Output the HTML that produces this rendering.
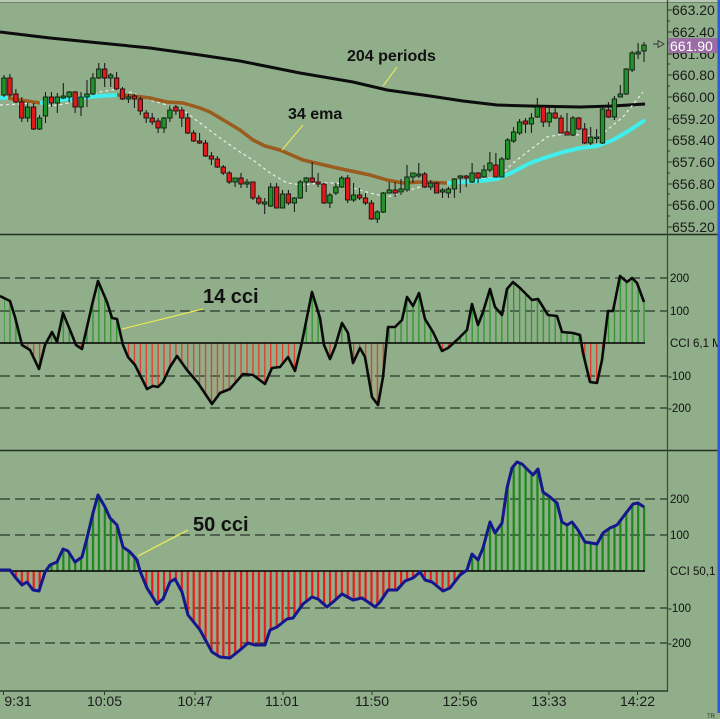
<!DOCTYPE html>
<html><head><meta charset="utf-8"><style>
html,body{margin:0;padding:0;background:#8fae89;}
svg{display:block;font-family:"Liberation Sans",Arial,sans-serif;}
</style></head><body>
<svg width="720" height="719" viewBox="0 0 720 719" xmlns="http://www.w3.org/2000/svg">
<defs>
<pattern id="pgm" patternUnits="userSpaceOnUse" x="3.4" y="0" width="5.926" height="20"><rect x="0" y="0" width="1.3" height="20" fill="#2b982b"/></pattern>
<pattern id="prm" patternUnits="userSpaceOnUse" x="3.4" y="0" width="5.926" height="20"><rect x="0" y="0" width="1.3" height="20" fill="#e43c2a"/></pattern>
<pattern id="pgb" patternUnits="userSpaceOnUse" x="3" y="0" width="5.926" height="20"><rect x="0" y="0" width="2.2" height="20" fill="#1b8a1b"/></pattern>
<pattern id="prb" patternUnits="userSpaceOnUse" x="3" y="0" width="5.926" height="20"><rect x="0" y="0" width="2.2" height="20" fill="#e81c1c"/></pattern>
<clipPath id="cm"><polygon points="4,298 10,301 15,317 22,345 30,350 39,369 45,345 52,332 57,342 63,313 70,330 76,345 82,349 92,305 98,281 107,302 112,318 117,319 123,345 128,357 135,365 147,389 153,386 158,387 163,382 170,367 177,356 187,370 198,383 212,404 220,393 230,389 243,374 253,375 265,384 272,368 280,367 288,357 295,371 302,342 312,292 320,318 324,345 330,359 335,347 342,323 348,333 353,363 360,348 365,357 372,397 378,405 383,377 388,327 395,327 402,320 407,297 413,306 419,293 425,319 433,332 442,351 448,348 457,340 467,330 472,304 478,325 483,312 490,289 495,307 502,315 507,289 513,282 520,288 532,300 538,299 548,315 557,316 562,332 573,333 580,335 583,353 590,382 597,383 602,360 608,311 613,311 620,276 627,282 632,278 637,283 645,302 645,343 4,343"/></clipPath>
<clipPath id="cb"><polygon points="4,570 10,570 15,577 22,585 27,582 33,590 39,591 45,572 50,565 57,562 63,549 68,551 75,562 82,557 87,538 93,513 98,495 105,507 110,518 117,525 123,547 130,552 137,560 140,571 147,588 157,604 163,599 170,582 175,579 182,592 188,615 200,630 212,652 220,657 230,658 240,650 248,643 255,645 265,645 270,630 277,627 287,619 293,618 303,604 312,597 318,599 327,607 333,602 342,594 353,600 362,598 368,602 375,607 380,602 388,590 397,590 405,581 413,578 420,572 425,580 432,582 443,591 450,588 460,575 467,570 472,554 478,560 483,548 490,522 495,533 502,523 507,488 512,468 517,462 522,464 533,475 538,469 543,492 550,497 557,503 562,522 567,525 572,522 578,530 585,542 597,544 603,533 610,528 617,525 623,517 633,504 638,503 646,507 646,571 4,571"/></clipPath>
</defs>
<rect x="0" y="0" width="720" height="719" fill="#8fae89"/>
<rect x="0" y="0" width="718" height="2" fill="#b7c9b3"/>
<line x1="0" y1="2.5" x2="718" y2="2.5" stroke="#6f8270" stroke-width="1"/>
<rect x="717.5" y="0" width="2.5" height="713" fill="#2d5bd6"/>

<line x1="0" y1="234.5" x2="718" y2="234.5" stroke="#233023" stroke-width="1.5"/>
<line x1="0" y1="450.5" x2="718" y2="450.5" stroke="#233023" stroke-width="1.5"/>
<line x1="667.5" y1="0" x2="667.5" y2="691" stroke="#3a4a38" stroke-width="1.2"/>
<line x1="0" y1="691" x2="668" y2="691" stroke="#2a3a2a" stroke-width="1.5"/>

<path d="M667 10H672M667 32H672M667 54H672M667 75H672M667 97H672M667 119H672M667 140H672M667 162H672M667 184H672M667 205H672M667 227H672M667 21H670M667 43H670M667 64H670M667 86H670M667 108H670M667 129H670M667 151H670M667 173H670M667 194H670M667 216H670" stroke="#2a3a2a" stroke-width="1"/>
<g font-size="14" fill="#1a1a1a">
<text x="672" y="15">663.20</text>
<text x="672" y="37">662.40</text>
<text x="672" y="59">661.60</text>
<text x="672" y="80">660.80</text>
<text x="672" y="102">660.00</text>
<text x="672" y="124">659.20</text>
<text x="672" y="145">658.40</text>
<text x="672" y="167">657.60</text>
<text x="672" y="189">656.80</text>
<text x="672" y="210">656.00</text>
<text x="672" y="232">655.20</text>
</g>
<rect x="668.5" y="38" width="49" height="15" fill="#9a6ea3"/>
<text x="670" y="51" font-size="14" fill="#ffffff">661.90</text>
<path d="M653 44H658M658 40.5L664 44L658 47.5Z" stroke="#333" stroke-width="0.9" fill="none"/>

<polyline points="0,32 50,38 100,43 150,48 200,55 240,61 300,73 353,82 387,90 430,96 463,101 497,105 530,106 580,107 613,106 645,104" fill="none" stroke="#0d0d0d" stroke-width="3"/>
<polyline points="0,105 20,104 33,103 50,106 65,104 80,99 100,92 117,89 133,93 150,100 167,105 183,110 200,123 220,138 240,152 253,160 270,173 287,183 303,185 320,183 337,183 353,188 370,193 387,197 403,192 420,187 437,185 447,183 470,180 497,177 503,173 513,163 530,150 547,137 563,134 580,135 597,137 607,130 623,117 643,92" fill="none" stroke="#eeeeee" stroke-width="1.2" stroke-dasharray="3 3"/>
<polyline points="0,98 8,98" fill="none" stroke="#40eeee" stroke-width="4"/>
<polyline points="8,98 20,100 40,103" fill="none" stroke="#9a5c1f" stroke-width="3.5"/>
<polyline points="40,103 60,100 80,98 100,96 117,95" fill="none" stroke="#40eeee" stroke-width="4"/>
<polyline points="117,95 135,96 150,98 167,102 183,103 200,108 210,112 220,118 240,130 253,140 265,146 280,150 303,160 337,168 370,175 387,180 403,183 420,182 447,183" fill="none" stroke="#9a5c1f" stroke-width="3.5" stroke-linejoin="round"/>
<polyline points="447,183 463,182 480,181 497,179 513,172 530,163 547,157 563,152 580,148 597,146 613,140 630,130 645,120" fill="none" stroke="#40eeee" stroke-width="4" stroke-linejoin="round"/>

<path fill="none" stroke="#111" stroke-width="1" d="M4 75V97M9.9 74V97M15.9 89V103M21.8 97V122M27.7 103V122M33.6 103V130M39.6 115V130M45.5 92V123M51.4 92V107M57.3 93V113M63.3 83V99M69.2 91V102M75.1 91V113M81 92V116M87 80V107M92.9 73V95M98.8 63V79M104.7 63V87M110.7 73V87M116.6 72V90M122.5 87V100M128.4 94V103M134.4 94V108M140.3 97V115M146.2 110V123M152.2 113V125M158.1 118V133M164 117V133M169.9 105V122M175.9 105V115M181.8 107V127M187.7 113V134M193.6 130V142M199.6 133V144M205.5 140V157M211.4 152V165M217.3 156V168M223.3 165V175M229.2 171V184M235.1 178V187M241 173V188M247 179V188M252.9 182V200M258.8 195V205M264.7 198V214M270.7 183V207M276.6 183V208M282.5 190V208M288.4 190V205M294.4 197V212M300.3 180V199M306.2 177V192M312.2 162V183M318.1 173V187M324 183V204M329.9 193V208M335.9 183V195M341.8 176V188M347.7 175V203M353.6 183V202M359.6 188V200M365.5 193V205M371.4 200V220M377.3 210V223M383.3 192V213M389.2 182V193M395.1 182V197M401 179V195M407 165V192M412.9 173V183M418.8 163V178M424.7 172V188M430.7 180V190M436.6 182V193M442.5 188V198M448.4 187V198M454.4 178V198M460.3 175V193M466.2 175V187M472.1 163V183M478.1 172V183M484 165V178M489.9 152V172M495.9 153V177M501.8 157V177M507.7 138V160M513.6 127V143M519.6 119V135M525.5 118V133M531.4 113V133M537.3 98V118M543.3 105V127M549.2 108V127M555.1 105V119M561 115V133M567 113V135M572.9 116V136M578.8 117V130M584.7 123V144M590.7 127V145M596.6 129V143M602.5 108V144M608.4 102V118M614.4 96V120M620.3 85V97M626.2 68V95M632.1 51V72M638.1 43V59M644 42V62"/>

<g fill="#22922a" stroke="#0e1a0e" stroke-width="0.9">
<rect x="1.8" y="78" width="4.4" height="17"/><rect x="25.5" y="107" width="4.4" height="11"/><rect x="37.4" y="118" width="4.4" height="11"/><rect x="43.3" y="97" width="4.4" height="19"/><rect x="55.1" y="97" width="4.4" height="6"/><rect x="61.1" y="96" width="4.4" height="2"/><rect x="67" y="92" width="4.4" height="5"/><rect x="78.8" y="97" width="4.4" height="10"/><rect x="84.8" y="94" width="4.4" height="3"/><rect x="90.7" y="78" width="4.4" height="16"/><rect x="96.6" y="69" width="4.4" height="9"/><rect x="108.5" y="75" width="4.4" height="3"/><rect x="126.2" y="97" width="4.4" height="2"/><rect x="161.8" y="118" width="4.4" height="10"/><rect x="167.7" y="110" width="4.4" height="8"/><rect x="232.9" y="178" width="4.4" height="4"/><rect x="244.8" y="182" width="4.4" height="2"/><rect x="262.5" y="202" width="4.4" height="2"/><rect x="268.5" y="187" width="4.4" height="19"/><rect x="280.3" y="194" width="4.4" height="14"/><rect x="292.2" y="198" width="4.4" height="5"/><rect x="298.1" y="182" width="4.4" height="16"/><rect x="304" y="178" width="4.4" height="4"/><rect x="327.7" y="195" width="4.4" height="8"/><rect x="333.7" y="187" width="4.4" height="6"/><rect x="339.6" y="178" width="4.4" height="9"/><rect x="351.4" y="195" width="4.4" height="5"/><rect x="375.1" y="212" width="4.4" height="7"/><rect x="381.1" y="193" width="4.4" height="19"/><rect x="387" y="190" width="4.4" height="3"/><rect x="398.8" y="189" width="4.4" height="3"/><rect x="404.8" y="177" width="4.4" height="13"/><rect x="410.7" y="173" width="4.4" height="4"/><rect x="416.6" y="174" width="4.4" height="2"/><rect x="428.5" y="183" width="4.4" height="4"/><rect x="440.3" y="190" width="4.4" height="2"/><rect x="446.2" y="189" width="4.4" height="4"/><rect x="452.2" y="179" width="4.4" height="10"/><rect x="458.1" y="176" width="4.4" height="2"/><rect x="469.9" y="173" width="4.4" height="9"/><rect x="481.8" y="170" width="4.4" height="7"/><rect x="487.7" y="163" width="4.4" height="7"/><rect x="499.6" y="159" width="4.4" height="18"/><rect x="505.5" y="140" width="4.4" height="19"/><rect x="511.4" y="132" width="4.4" height="9"/><rect x="517.4" y="122" width="4.4" height="11"/><rect x="529.2" y="118" width="4.4" height="6"/><rect x="535.1" y="107" width="4.4" height="10"/><rect x="547" y="113" width="4.4" height="9"/><rect x="570.7" y="118" width="4.4" height="17"/><rect x="588.5" y="137" width="4.4" height="6"/><rect x="594.4" y="137" width="4.4" height="1.5"/><rect x="600.3" y="109" width="4.4" height="34"/><rect x="612.2" y="99" width="4.4" height="18"/><rect x="618.1" y="94" width="4.4" height="3"/><rect x="624" y="69" width="4.4" height="25"/><rect x="629.9" y="53" width="4.4" height="17"/><rect x="635.9" y="52" width="4.4" height="2"/><rect x="641.8" y="45" width="4.4" height="6"/>
</g>
<g fill="#e01a1a" stroke="#1a0e0e" stroke-width="0.9">
<rect x="7.7" y="78" width="4.4" height="17"/><rect x="13.7" y="94" width="4.4" height="8"/><rect x="19.6" y="102" width="4.4" height="16"/><rect x="31.4" y="107" width="4.4" height="22"/><rect x="49.2" y="97" width="4.4" height="6"/><rect x="72.9" y="92" width="4.4" height="15"/><rect x="102.5" y="69" width="4.4" height="9"/><rect x="114.4" y="78" width="4.4" height="11"/><rect x="120.3" y="89" width="4.4" height="10"/><rect x="132.2" y="96" width="4.4" height="3"/><rect x="138.1" y="99" width="4.4" height="12"/><rect x="144" y="113" width="4.4" height="5"/><rect x="150" y="118" width="4.4" height="4"/><rect x="155.9" y="121" width="4.4" height="7"/><rect x="173.7" y="107" width="4.4" height="4"/><rect x="179.6" y="110" width="4.4" height="8"/><rect x="185.5" y="118" width="4.4" height="15"/><rect x="191.4" y="133" width="4.4" height="8"/><rect x="197.4" y="141" width="4.4" height="2"/><rect x="203.3" y="143" width="4.4" height="13"/><rect x="209.2" y="156" width="4.4" height="3"/><rect x="215.1" y="159" width="4.4" height="8"/><rect x="221.1" y="167" width="4.4" height="6"/><rect x="227" y="173" width="4.4" height="9"/><rect x="238.8" y="178" width="4.4" height="6"/><rect x="250.7" y="182" width="4.4" height="16"/><rect x="256.6" y="198" width="4.4" height="5"/><rect x="274.4" y="187" width="4.4" height="21"/><rect x="286.2" y="194" width="4.4" height="9"/><rect x="310" y="178" width="4.4" height="4"/><rect x="315.9" y="182" width="4.4" height="2"/><rect x="321.8" y="184" width="4.4" height="19"/><rect x="345.5" y="178" width="4.4" height="22"/><rect x="357.4" y="195" width="4.4" height="3"/><rect x="363.3" y="198" width="4.4" height="5"/><rect x="369.2" y="203" width="4.4" height="16"/><rect x="392.9" y="190" width="4.4" height="3"/><rect x="422.5" y="174" width="4.4" height="13"/><rect x="434.4" y="183" width="4.4" height="10"/><rect x="464" y="176" width="4.4" height="2"/><rect x="475.9" y="173" width="4.4" height="5"/><rect x="493.7" y="165" width="4.4" height="12"/><rect x="523.3" y="121" width="4.4" height="3"/><rect x="541.1" y="107" width="4.4" height="15"/><rect x="552.9" y="113" width="4.4" height="5"/><rect x="558.8" y="118" width="4.4" height="15"/><rect x="564.8" y="132" width="4.4" height="3"/><rect x="576.6" y="118" width="4.4" height="11"/><rect x="582.5" y="129" width="4.4" height="14"/><rect x="606.2" y="110" width="4.4" height="7"/>
</g>

<line x1="397" y1="67" x2="383" y2="86" stroke="#e6e65a" stroke-width="1.2"/>
<text x="347" y="61" font-size="16" font-weight="bold" fill="#111">204 periods</text>
<line x1="303" y1="125" x2="282" y2="150" stroke="#e6e65a" stroke-width="1.2"/>
<text x="288" y="119" font-size="16" font-weight="bold" fill="#111">34 ema</text>

<g stroke="#27352a" stroke-width="1.3" stroke-dasharray="10 5">
<line x1="0" y1="278" x2="667" y2="278"/>
<line x1="0" y1="311" x2="667" y2="311"/>
<line x1="0" y1="376" x2="667" y2="376"/>
<line x1="0" y1="408" x2="667" y2="408"/>
</g>
<rect x="0" y="235" width="667" height="108" fill="url(#pgm)" clip-path="url(#cm)"/>
<rect x="0" y="343" width="667" height="107" fill="url(#prm)" clip-path="url(#cm)"/>
<line x1="0" y1="343" x2="645" y2="343" stroke="#000" stroke-width="1.5"/>
<polyline points="0,296 10,301 15,317 22,345 30,350 39,369 45,345 52,332 57,342 63,313 70,330 76,345 82,349 92,305 98,281 107,302 112,318 117,319 123,345 128,357 135,365 147,389 153,386 158,387 163,382 170,367 177,356 187,370 198,383 212,404 220,393 230,389 243,374 253,375 265,384 272,368 280,367 288,357 295,371 302,342 312,292 320,318 324,345 330,359 335,347 342,323 348,333 353,363 360,348 365,357 372,397 378,405 383,377 388,327 395,327 402,320 407,297 413,306 419,293 425,319 433,332 442,351 448,348 457,340 467,330 472,304 478,325 483,312 490,289 495,307 502,315 507,289 513,282 520,288 532,300 538,299 548,315 557,316 562,332 573,333 580,335 583,353 590,382 597,383 602,360 608,311 613,311 620,276 627,282 632,278 637,283 644,302" fill="none" stroke="#0a0a0a" stroke-width="2.6" stroke-linejoin="round"/>
<line x1="203" y1="309" x2="122" y2="329" stroke="#e6e65a" stroke-width="1.3"/>
<text x="203" y="303" font-size="20" font-weight="bold" fill="#111">14 cci</text>
<g font-size="11.5" fill="#111">
<text x="670" y="282">200</text>
<text x="670" y="315">100</text>
<text x="670" y="347">CCI 6,1 M</text>
<text x="668" y="380">-100</text>
<text x="668" y="412">-200</text>
</g>

<g stroke="#27352a" stroke-width="1.3" stroke-dasharray="10 5">
<line x1="0" y1="499" x2="667" y2="499"/>
<line x1="0" y1="535" x2="667" y2="535"/>
<line x1="0" y1="608" x2="667" y2="608"/>
<line x1="0" y1="643" x2="667" y2="643"/>
</g>
<rect x="0" y="451" width="667" height="120" fill="url(#pgb)" clip-path="url(#cb)"/>
<rect x="0" y="571" width="667" height="119" fill="url(#prb)" clip-path="url(#cb)"/>
<line x1="0" y1="571" x2="645" y2="571" stroke="#000" stroke-width="1.5"/>
<polyline points="0,570 10,570 15,577 22,585 27,582 33,590 39,591 45,572 50,565 57,562 63,549 68,551 75,562 82,557 87,538 93,513 98,495 105,507 110,518 117,525 123,547 130,552 137,560 140,571 147,588 157,604 163,599 170,582 175,579 182,592 188,615 200,630 212,652 220,657 230,658 240,650 248,643 255,645 265,645 270,630 277,627 287,619 293,618 303,604 312,597 318,599 327,607 333,602 342,594 353,600 362,598 368,602 375,607 380,602 388,590 397,590 405,581 413,578 420,572 425,580 432,582 443,591 450,588 460,575 467,570 472,554 478,560 483,548 490,522 495,533 502,523 507,488 512,468 517,462 522,464 533,475 538,469 543,492 550,497 557,503 562,522 567,525 572,522 578,530 585,542 597,544 603,533 610,528 617,525 623,517 633,504 638,503 644,507" fill="none" stroke="#15178c" stroke-width="3" stroke-linejoin="round"/>
<line x1="188" y1="530" x2="138" y2="556" stroke="#e6e65a" stroke-width="1.3"/>
<text x="193" y="531" font-size="20" font-weight="bold" fill="#111">50 cci</text>
<g font-size="11.5" fill="#111">
<text x="670" y="503">200</text>
<text x="670" y="539">100</text>
<text x="670" y="575">CCI 50,1 A</text>
<text x="668" y="612">-100</text>
<text x="668" y="647">-200</text>
</g>
<rect x="717.5" y="0" width="2.5" height="713" fill="#2d5bd6"/>

<path d="M3.5 691V695M104.5 691V695M195 691V695M283 691V695M372 691V695M460 691V695M549 691V695M637.5 691V695" stroke="#2a3a2a" stroke-width="1"/>
<g font-size="14" fill="#1a1a1a" text-anchor="middle">
<text x="18" y="706">9:31</text>
<text x="104.5" y="706">10:05</text>
<text x="195" y="706">10:47</text>
<text x="282" y="706">11:01</text>
<text x="372" y="706">11:50</text>
<text x="460" y="706">12:56</text>
<text x="549" y="706">13:33</text>
<text x="637.5" y="706">14:22</text>
</g>
<text x="707" y="718" font-size="6" fill="#333">TR</text>
</svg>
</body></html>
